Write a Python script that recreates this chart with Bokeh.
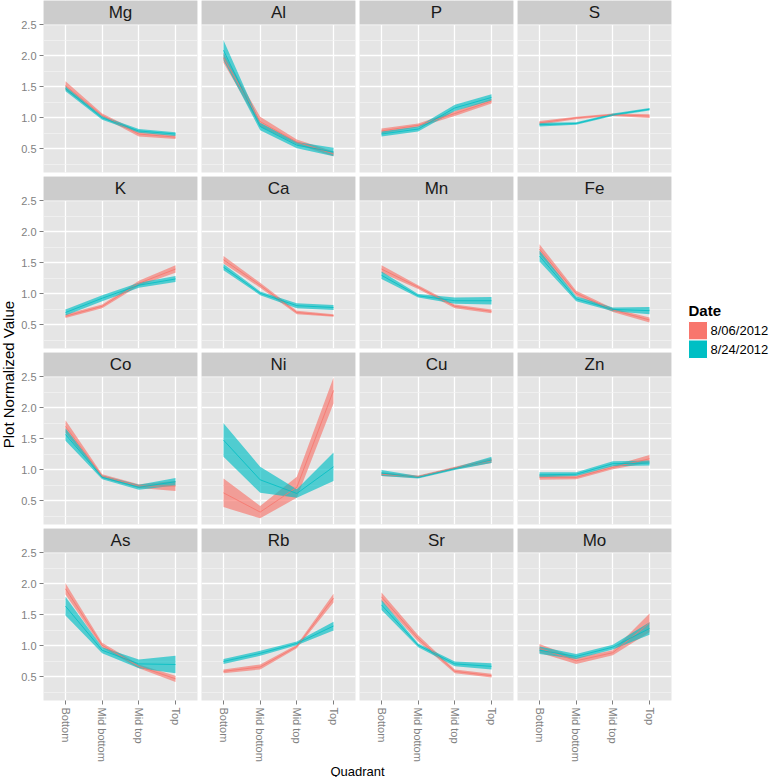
import math
from bokeh.plotting import figure
from bokeh.models import GridPlot, Range1d, FixedTicker, ColumnDataSource, PrintfTickFormatter, Row, Column
from bokeh.embed import file_html
from bokeh.resources import INLINE
from bokeh.core.properties import value

# ---------------- data ----------------
quadrants = ["Bottom", "Mid bottom", "Mid top", "Top"]
elements = ["Mg", "Al", "P", "S", "K", "Ca", "Mn", "Fe",
            "Co", "Ni", "Cu", "Zn", "As", "Rb", "Sr", "Mo"]
dates = ["8/06/2012", "8/24/2012"]
date_colors = ["#F8766D", "#00BFC4"]

mean_0806 = {
    "Mg": [1.52, 1.04, 0.74, 0.69], "Al": [1.97, 0.94, 0.61, 0.42],
    "P": [0.79, 0.88, 1.07, 1.27], "S": [0.92, 1.00, 1.05, 1.03],
    "K": [0.64, 0.80, 1.17, 1.40], "Ca": [1.55, 1.14, 0.70, 0.65],
    "Mn": [1.40, 1.11, 0.80, 0.72], "Fe": [1.72, 1.01, 0.74, 0.58],
    "Co": [1.70, 0.90, 0.74, 0.74], "Ni": [0.63, 0.32, 0.72, 2.28],
    "Cu": [0.93, 0.89, 1.03, 1.15], "Zn": [0.88, 0.88, 1.04, 1.18],
    "As": [1.92, 1.01, 0.67, 0.47], "Rb": [0.59, 0.66, 0.99, 1.77],
    "Sr": [1.79, 1.12, 0.59, 0.52], "Mo": [0.96, 0.76, 0.89, 1.37],
}
se_0806 = {
    "Mg": [0.07, 0.03, 0.04, 0.03], "Al": [0.08, 0.08, 0.04, 0.04],
    "P": [0.04, 0.03, 0.04, 0.04], "S": [0.03, 0.02, 0.02, 0.03],
    "K": [0.03, 0.03, 0.04, 0.06], "Ca": [0.06, 0.04, 0.03, 0.02],
    "Mn": [0.06, 0.03, 0.03, 0.03], "Fe": [0.08, 0.04, 0.03, 0.04],
    "Co": [0.10, 0.03, 0.03, 0.08], "Ni": [0.23, 0.10, 0.17, 0.21],
    "Cu": [0.03, 0.02, 0.02, 0.04], "Zn": [0.04, 0.03, 0.03, 0.06],
    "As": [0.09, 0.04, 0.03, 0.05], "Rb": [0.03, 0.04, 0.03, 0.07],
    "Sr": [0.07, 0.05, 0.03, 0.03], "Mo": [0.07, 0.05, 0.04, 0.15],
}
mean_0824 = {
    "Mg": [1.47, 1.00, 0.79, 0.74], "Al": [2.09, 0.86, 0.56, 0.45],
    "P": [0.74, 0.82, 1.16, 1.33], "S": [0.89, 0.91, 1.05, 1.14],
    "K": [0.70, 0.93, 1.14, 1.24], "Ca": [1.43, 1.01, 0.81, 0.78],
    "Mn": [1.30, 0.97, 0.89, 0.89], "Fe": [1.61, 0.92, 0.75, 0.73],
    "Co": [1.57, 0.88, 0.72, 0.81], "Ni": [1.48, 0.84, 0.62, 1.05],
    "Cu": [0.95, 0.88, 1.02, 1.16], "Zn": [0.92, 0.93, 1.10, 1.11],
    "As": [1.64, 0.93, 0.71, 0.70], "Rb": [0.75, 0.88, 1.04, 1.32],
    "Sr": [1.66, 1.01, 0.71, 0.67], "Mo": [0.93, 0.83, 0.98, 1.28],
}
se_0824 = {
    "Mg": [0.04, 0.03, 0.03, 0.03], "Al": [0.16, 0.06, 0.05, 0.07],
    "P": [0.04, 0.04, 0.05, 0.05], "S": [0.03, 0.02, 0.02, 0.02],
    "K": [0.05, 0.05, 0.04, 0.05], "Ca": [0.05, 0.03, 0.04, 0.04],
    "Mn": [0.06, 0.03, 0.05, 0.06], "Fe": [0.09, 0.04, 0.03, 0.06],
    "Co": [0.10, 0.03, 0.04, 0.06], "Ni": [0.27, 0.21, 0.07, 0.23],
    "Cu": [0.05, 0.02, 0.02, 0.05], "Zn": [0.04, 0.03, 0.04, 0.04],
    "As": [0.15, 0.05, 0.07, 0.14], "Rb": [0.04, 0.04, 0.03, 0.07],
    "Sr": [0.08, 0.03, 0.04, 0.05], "Mo": [0.06, 0.04, 0.04, 0.10],
}
series = [(mean_0806, se_0806), (mean_0824, se_0824)]

y_ticks = [0.5, 1.0, 1.5, 2.0, 2.5]
y_minor = [0.25, 0.75, 1.25, 1.75, 2.25]
y_title = "Plot Normalized  Value"
x_title = "Quadrant"
legend_title = "Date"

# ---------------- layout ----------------
FONT = "Liberation Sans"
PANEL_W, PANEL_H, STRIP_H, GAP = 154, 148, 24, 4
AXIS_L, AXIS_B, YLAB_W, XLAB_H, LEG_W = 25, 62, 18, 13, 95
NCOL = 4
X0, X1 = 0.4, 4.6
Y0, Y1 = 0.12, 2.505
YS = Y1 + STRIP_H * (Y1 - Y0) / PANEL_H
xpos = list(range(1, len(quadrants) + 1))
nrow = (len(elements) + NCOL - 1) // NCOL
row_h = [PANEL_H + STRIP_H + (AXIS_B if r == nrow - 1 else GAP) for r in range(nrow)]
GRID_H = sum(row_h)
FULL_H = GRID_H + XLAB_H
GRID_W = AXIS_L + PANEL_W + GAP + (NCOL - 1) * (PANEL_W + GAP)
GREY_TXT = "#7F7F7F"

children = []
for i, el in enumerate(elements):
    r, c = divmod(i, NCOL)
    bottom = r == nrow - 1
    left = c == 0
    p = figure(frame_width=PANEL_W, frame_height=PANEL_H + STRIP_H,
               x_range=Range1d(X0, X1), y_range=Range1d(Y0, YS),
               x_axis_location="below" if bottom else None,
               y_axis_location="left" if left else None,
               min_border_left=AXIS_L if left else 0, min_border_right=GAP,
               min_border_top=0, min_border_bottom=AXIS_B if bottom else GAP,
               background_fill_color="#E5E5E5", border_fill_color="white",
               outline_line_color=None, toolbar_location=None,
               output_backend="svg")
    p.xgrid.ticker = FixedTicker(ticks=xpos, minor_ticks=[])
    p.ygrid.ticker = FixedTicker(ticks=y_ticks, minor_ticks=y_minor)
    p.grid.grid_line_color = "white"
    p.grid.grid_line_width = 1.3
    p.ygrid.minor_grid_line_color = "#F4F4F4"
    p.ygrid.minor_grid_line_width = 0.7

    for (means, ses), col in zip(series, date_colors):
        m = means[el]
        s = ses[el]
        src = ColumnDataSource(dict(
            x=xpos, mean=m,
            lo=[a - b for a, b in zip(m, s)],
            hi=[a + b for a, b in zip(m, s)]))
        p.varea(x="x", y1="lo", y2="hi", source=src,
                fill_color=col, fill_alpha=0.65)
    for (means, ses), col in zip(series, date_colors):
        p.line(x=xpos, y=means[el], line_color=col, line_width=0.9, line_alpha=0.9)

    # facet strip
    p.quad(left=[X0], right=[X1], bottom=[Y1], top=[YS],
           fill_color="#CCCCCC", line_color=None)
    p.text(x=[(X0 + X1) / 2], y=[(Y1 + YS) / 2], text=[el],
           text_align="center", text_baseline="middle",
           text_font=value(FONT), text_font_size="17px", text_color="#1A1A1A")

    for ax in p.yaxis:
        ax.ticker = FixedTicker(ticks=y_ticks, minor_ticks=[])
        ax.formatter = PrintfTickFormatter(format="%.1f")
        ax.major_label_standoff = 3
    for ax in p.xaxis:
        ax.ticker = FixedTicker(ticks=xpos, minor_ticks=[])
        ax.major_label_overrides = {k: q for k, q in zip(xpos, quadrants)}
        ax.major_label_orientation = -math.pi / 2
        ax.major_label_standoff = 3
    for ax in list(p.xaxis) + list(p.yaxis):
        ax.axis_line_color = None
        ax.major_tick_in = 0
        ax.major_tick_out = 4
        ax.major_tick_line_color = GREY_TXT
        ax.minor_tick_line_color = None
        ax.major_label_text_color = GREY_TXT
        ax.major_label_text_font = FONT
        ax.major_label_text_font_size = "11px"
    children.append((p, r, c))

panels = GridPlot(children=children, toolbar_location=None, spacing=0)


def blank(w, h):
    f = figure(width=w, height=h, x_range=Range1d(0, w), y_range=Range1d(0, h),
               min_border=0, x_axis_location=None, y_axis_location=None,
               outline_line_color=None, toolbar_location=None,
               border_fill_color="white", background_fill_color="white",
               output_backend="svg")
    f.grid.visible = False
    return f


# y-axis title
yl = blank(YLAB_W, FULL_H)
yl.text(x=[8], y=[FULL_H - 372], text=[y_title], angle=math.pi / 2,
        text_align="center", text_baseline="middle",
        text_font=value(FONT), text_font_size="15px", text_color="black")

# x-axis title
xl = blank(GRID_W, XLAB_H)
xl.text(x=[AXIS_L + (NCOL * PANEL_W + (NCOL - 1) * GAP) / 2], y=[XLAB_H / 2],
        text=[x_title], text_align="center", text_baseline="middle",
        text_font=value(FONT), text_font_size="13px", text_color="black")

# legend
lf = blank(LEG_W, FULL_H)
SW, SH, LX = 19, 18.5, 13
title_y = FULL_H - 310
top0 = FULL_H - 321
lf.text(x=[LX], y=[title_y], text=[legend_title], text_align="left",
        text_baseline="middle", text_font=value(FONT), text_font_size="15px",
        text_font_style="bold", text_color="black")
tops = [top0 - k * SH for k in range(len(dates))]
lf.quad(left=[LX] * len(dates), right=[LX + SW] * len(dates),
        top=tops, bottom=[t - SH for t in tops],
        fill_color=date_colors, line_color="white", line_width=1)
lf.text(x=[LX + SW + 3] * len(dates), y=[t - SH / 2 for t in tops], text=dates,
        text_align="left", text_baseline="middle", text_font=value(FONT),
        text_font_size="13px", text_color="black")

layout = Row(children=[yl, Column(children=[panels, xl], spacing=0), lf], spacing=0)

open("out.html", "w").write(file_html(layout, INLINE))
